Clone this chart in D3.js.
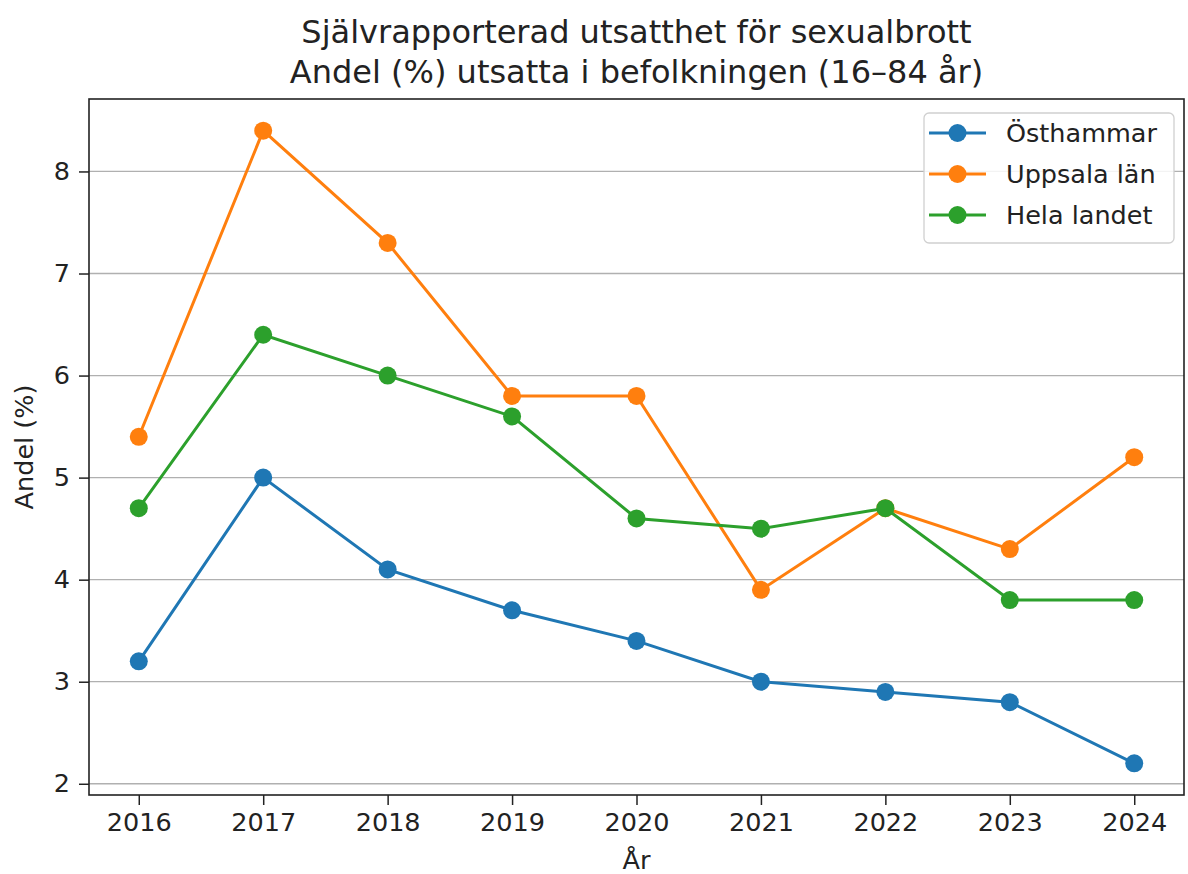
<!DOCTYPE html>
<html><head><meta charset="utf-8">
<script src="https://cdn.jsdelivr.net/npm/d3@7"></script>
<style>body{margin:0;background:#fff}svg{display:block}text{font-family:"DejaVu Sans",sans-serif;fill:#222}</style>
</head><body>
<svg id="c" width="1188" height="874"></svg>
<script>
const years = [2016, 2017, 2018, 2019, 2020, 2021, 2022, 2023, 2024];
const osthammar = [3.2, 5.0, 4.1, 3.7, 3.4, 3.0, 2.9, 2.8, 2.2];
const uppsala = [5.4, 8.4, 7.3, 5.8, 5.8, 3.9, 4.7, 4.3, 5.2];
const helaLandet = [4.7, 6.4, 6.0, 5.6, 4.6, 4.5, 4.7, 3.8, 3.8];
const seriesNames = ["Östhammar", "Uppsala län", "Hela landet"];
const seriesColors = ["#1f77b4", "#ff7f0e", "#2ca02c"];
const yTicks = [2, 3, 4, 5, 6, 7, 8];
const titleLines = ["Självrapporterad utsatthet för sexualbrott", "Andel (%) utsatta i befolkningen (16–84 år)"];

const svg = d3.select("#c");
const L = 89, R = 1184, T = 99, B = 795;
const FS = 25.5;
const x = d3.scaleLinear().domain([2015.6, 2024.4]).range([L, R]);
const y = d3.scaleLinear().domain([1.89, 8.71]).range([B, T]);

// grid
svg.append("g").selectAll("line").data(yTicks).join("line")
  .attr("x1", L).attr("x2", R).attr("y1", d => y(d)).attr("y2", d => y(d))
  .attr("stroke", "#b0b0b0").attr("stroke-width", 1.3);

// axes
const xa = svg.append("g").attr("transform", `translate(0,${B})`)
  .call(d3.axisBottom(x).tickValues(years).tickFormat(d3.format("d")).tickSize(10).tickPadding(8));
const ya = svg.append("g").attr("transform", `translate(${L},0)`)
  .call(d3.axisLeft(y).tickValues(yTicks).tickFormat(d3.format("d")).tickSize(10).tickPadding(9));
[xa, ya].forEach(a => {
  a.select(".domain").remove();
  a.selectAll("text").attr("font-size", FS).attr("font-family", "DejaVu Sans").attr("fill", "#222");
  a.selectAll("line").attr("stroke", "#222").attr("stroke-width", 1.5);
});
svg.append("rect").attr("x", L).attr("y", T).attr("width", R - L).attr("height", B - T)
  .attr("fill", "none").attr("stroke", "#222").attr("stroke-width", 1.6);

// series
const data = [osthammar, uppsala, helaLandet];
const line = d3.line().x((d, i) => x(years[i])).y(d => y(d));
data.forEach((vals, k) => {
  const g = svg.append("g");
  g.append("path").attr("d", line(vals)).attr("fill", "none")
    .attr("stroke", seriesColors[k]).attr("stroke-width", 3);
  g.selectAll("circle").data(vals).join("circle")
    .attr("cx", (d, i) => x(years[i])).attr("cy", d => y(d)).attr("r", 9)
    .attr("fill", seriesColors[k]);
});

// legend
const lg = svg.append("g");
lg.append("rect").attr("x", 924).attr("y", 113).attr("width", 250).attr("height", 130).attr("rx", 5)
  .attr("fill", "#fff").attr("fill-opacity", 0.85).attr("stroke", "#d0d0d0").attr("stroke-width", 1.3);
seriesNames.forEach((n, k) => {
  const yy = 133 + k * 41;
  lg.append("line").attr("x1", 929).attr("x2", 986).attr("y1", yy).attr("y2", yy)
    .attr("stroke", seriesColors[k]).attr("stroke-width", 3);
  lg.append("circle").attr("cx", 957.5).attr("cy", yy).attr("r", 9).attr("fill", seriesColors[k]);
  lg.append("text").attr("x", 1006).attr("y", yy).attr("dy", "0.36em").attr("font-size", FS).text(n);
});

// titles
svg.append("text").attr("x", (L + R) / 2).attr("y", 43).attr("text-anchor", "middle").attr("font-size", 32).text(titleLines[0]);
svg.append("text").attr("x", (L + R) / 2).attr("y", 83).attr("text-anchor", "middle").attr("font-size", 32).text(titleLines[1]);
svg.append("text").attr("x", (L + R) / 2).attr("y", 869).attr("text-anchor", "middle").attr("font-size", FS).text("År");
svg.append("text").attr("transform", `translate(33,${(T + B) / 2}) rotate(-90)`).attr("text-anchor", "middle").attr("font-size", FS).text("Andel (%)");
</script>
</body></html>
